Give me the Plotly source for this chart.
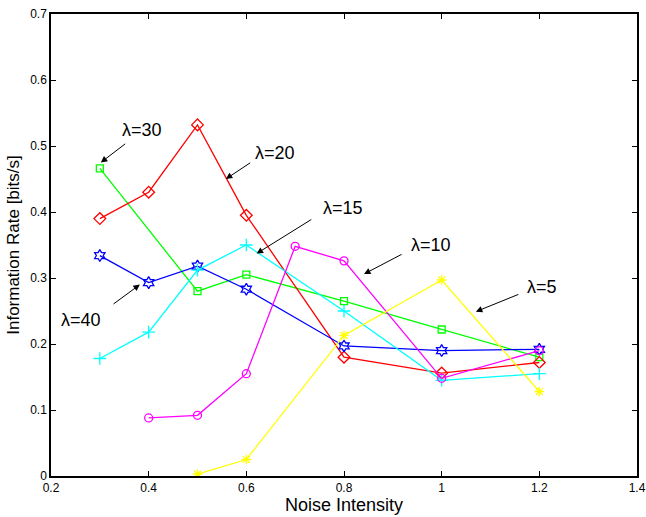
import plotly.graph_objects as go

# Data
noise_l30 = [0.3, 0.5, 0.6, 0.8, 1.0, 1.2]
rate_l30 = [0.466, 0.280, 0.305, 0.265, 0.222, 0.180]

noise_l20 = [0.3, 0.4, 0.5, 0.6, 0.8, 1.0, 1.2]
rate_l20 = [0.390, 0.430, 0.532, 0.395, 0.180, 0.156, 0.172]

noise_l40 = [0.3, 0.4, 0.5, 0.6, 0.8, 1.0, 1.2]
rate_l40 = [0.334, 0.293, 0.318, 0.283, 0.197, 0.190, 0.192]

noise_l15 = [0.3, 0.4, 0.5, 0.6, 0.8, 1.0, 1.2]
rate_l15 = [0.178, 0.218, 0.312, 0.350, 0.250, 0.145, 0.155]

noise_l10 = [0.4, 0.5, 0.6, 0.7, 0.8, 1.0, 1.2]
rate_l10 = [0.088, 0.092, 0.155, 0.348, 0.326, 0.148, 0.190]

noise_l5 = [0.5, 0.6, 0.8, 1.0, 1.2]
rate_l5 = [0.003, 0.025, 0.213, 0.297, 0.128]

x_ticks = [0.2, 0.4, 0.6, 0.8, 1.0, 1.2, 1.4]
x_tick_labels = ["0.2", "0.4", "0.6", "0.8", "1", "1.2", "1.4"]
y_ticks = [0, 0.1, 0.2, 0.3, 0.4, 0.5, 0.6, 0.7]
y_tick_labels = ["0", "0.1", "0.2", "0.3", "0.4", "0.5", "0.6", "0.7"]

# label text, text position, arrow tail, arrow tip (data coords)
labels = ["λ=30", "λ=20", "λ=15", "λ=10", "λ=5", "λ=40"]
label_pos = [(0.386, 0.525), (0.658, 0.490), (0.798, 0.406),
             (0.978, 0.350), (1.205, 0.286), (0.261, 0.237)]
arrow_tail = [(0.355, 0.505), (0.611, 0.476), (0.736, 0.390),
              (0.921, 0.337), (1.160, 0.276), (0.325, 0.259)]
arrow_tip = [(0.302, 0.475), (0.558, 0.450), (0.621, 0.337),
             (0.841, 0.306), (1.070, 0.249), (0.382, 0.290)]

series = [
    (noise_l30, rate_l30, "#00ff00", "square-open", 7, "λ=30"),
    (noise_l20, rate_l20, "#ff0000", "diamond-open", 9, "λ=20"),
    (noise_l40, rate_l40, "#0000ff", "hexagram-open", 9, "λ=40"),
    (noise_l15, rate_l15, "#00ffff", "cross-thin-open", 9, "λ=15"),
    (noise_l10, rate_l10, "#ff00ff", "circle-open", 8, "λ=10"),
    (noise_l5, rate_l5, "#ffff00", "asterisk-open", 8, "λ=5"),
]

FONT = "Liberation Sans, Arial, sans-serif"

fig = go.Figure()
for xs, ys, col, sym, sz, name in series:
    fig.add_trace(go.Scatter(
        x=xs, y=ys, mode="lines+markers", name=name,
        line=dict(color=col, width=1.3),
        marker=dict(symbol=sym, size=sz, color=col, line=dict(color=col, width=1.3)),
        showlegend=False,
    ))

annotations = []
for txt, (tx, ty), (ax, ay), (hx, hy) in zip(labels, label_pos, arrow_tail, arrow_tip):
    annotations.append(dict(
        x=hx, y=hy, ax=ax, ay=ay, xref="x", yref="y", axref="x", ayref="y",
        text="", showarrow=True, arrowhead=2, arrowsize=1.3, arrowwidth=1,
        arrowcolor="black", standoff=0, startstandoff=0,
    ))
    annotations.append(dict(
        x=tx, y=ty, xref="x", yref="y", text=txt, showarrow=False,
        font=dict(family=FONT, size=18, color="black"),
    ))

axis_common = dict(
    showgrid=False, zeroline=False, showline=True, linecolor="black", linewidth=1.5,
    mirror="ticks", ticks="inside", ticklen=5, tickwidth=1, tickcolor="black",
    tickfont=dict(family=FONT, size=12, color="black"), automargin=False,
)

fig.update_layout(
    width=646, height=517,
    margin=dict(l=51, r=9, t=14, b=41),
    paper_bgcolor="white", plot_bgcolor="white",
    xaxis=dict(range=[0.2, 1.4], tickvals=x_ticks, ticktext=x_tick_labels,
               title=dict(text="Noise Intensity", standoff=2,
                          font=dict(family=FONT, size=18, color="black")),
               **axis_common),
    yaxis=dict(range=[0, 0.7], tickvals=y_ticks, ticktext=y_tick_labels,
               title=dict(text="Information Rate [bits/s]", standoff=6,
                          font=dict(family=FONT, size=17, color="black")),
               **axis_common),
    annotations=annotations,
)

fig.write_html("out.html", config={"displayModeBar": False},
               post_script="document.body.style.margin='0';")
